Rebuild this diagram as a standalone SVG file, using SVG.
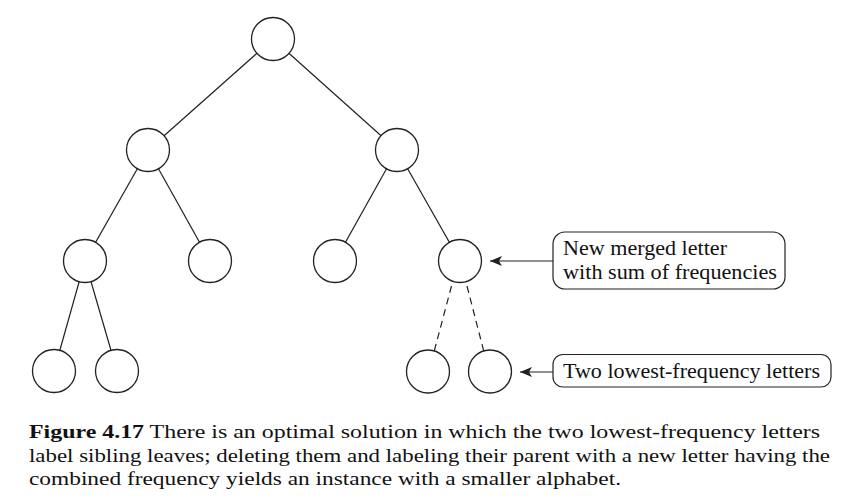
<svg xmlns="http://www.w3.org/2000/svg" width="855" height="502" viewBox="0 0 855 502">
<style>
.n{fill:#fff;stroke:#222;stroke-width:1.3}
.e{stroke:#222;stroke-width:1.2;fill:none}
.d{stroke:#222;stroke-width:1.2;fill:none;stroke-dasharray:7,5}
.box{fill:#fff;stroke:#222;stroke-width:1.2}
.t{font-family:"Liberation Serif",serif;font-size:21px;fill:#111}
.c{font-family:"Liberation Serif",serif;font-size:19.5px;fill:#111}
.b{font-weight:bold}
</style>
<defs>
<marker id="ah" viewBox="0 0 12 10" refX="12" refY="5" markerWidth="12" markerHeight="10" markerUnits="userSpaceOnUse" orient="auto">
<path d="M0,0 L12,5 L0,10 L3,5 Z" fill="#222"/>
</marker>
</defs>
<g id="connectors">
<line class="e" x1="273" y1="39" x2="148" y2="150"/>
<line class="e" x1="273" y1="39" x2="397" y2="150"/>
<line class="e" x1="148" y1="150" x2="85" y2="261"/>
<line class="e" x1="148" y1="150" x2="210" y2="261"/>
<line class="e" x1="397" y1="150" x2="335" y2="261"/>
<line class="e" x1="397" y1="150" x2="460" y2="261"/>
<line class="e" x1="85" y1="261" x2="54" y2="371"/>
<line class="e" x1="85" y1="261" x2="117" y2="371"/>
<line class="d" x1="451.5" y1="286" x2="434" y2="352"/>
<line class="d" x1="467" y1="286" x2="484" y2="352"/>
<line class="e" x1="553" y1="261" x2="490" y2="261" marker-end="url(#ah)"/>
<line class="e" x1="553" y1="372" x2="520" y2="372" marker-end="url(#ah)"/>
</g>
<g id="root"><circle class="n" cx="273" cy="39" r="21.5"/></g>
<g id="n-l"><circle class="n" cx="148" cy="150" r="21.5"/></g>
<g id="n-r"><circle class="n" cx="397" cy="150" r="21.5"/></g>
<g id="n-ll"><circle class="n" cx="85" cy="261" r="21.5"/></g>
<g id="n-lr"><circle class="n" cx="210" cy="261" r="21.5"/></g>
<g id="n-rl"><circle class="n" cx="335" cy="261" r="21.5"/></g>
<g id="n-rr"><circle class="n" cx="460" cy="261" r="21.5"/></g>
<g id="n-lll"><circle class="n" cx="54" cy="371" r="21.5"/></g>
<g id="n-llr"><circle class="n" cx="117" cy="371" r="21.5"/></g>
<g id="n-rrl"><circle class="n" cx="428" cy="371.5" r="21.5"/></g>
<g id="n-rrr"><circle class="n" cx="490" cy="371.5" r="21.5"/></g>
<g id="label-merged">
<rect class="box" x="553" y="232" width="232" height="57" rx="12"/>
<text class="t" x="563" y="255" textLength="164" lengthAdjust="spacingAndGlyphs">New merged letter</text>
<text class="t" x="563" y="279" textLength="214" lengthAdjust="spacingAndGlyphs">with sum of frequencies</text>
</g>
<g id="label-lowest">
<rect class="box" x="553" y="354.5" width="278" height="32.5" rx="10"/>
<text class="t" x="563" y="378" textLength="257" lengthAdjust="spacingAndGlyphs">Two lowest-frequency letters</text>
</g>
<g id="caption">
<text class="c" x="29" y="438" textLength="791" lengthAdjust="spacingAndGlyphs"><tspan class="b">Figure 4.17</tspan> There is an optimal solution in which the two lowest-frequency letters</text>
<text class="c" x="29" y="462" textLength="801" lengthAdjust="spacingAndGlyphs">label sibling leaves; deleting them and labeling their parent with a new letter having the</text>
<text class="c" x="29" y="485" textLength="592" lengthAdjust="spacingAndGlyphs">combined frequency yields an instance with a smaller alphabet.</text>
</g>
</svg>
